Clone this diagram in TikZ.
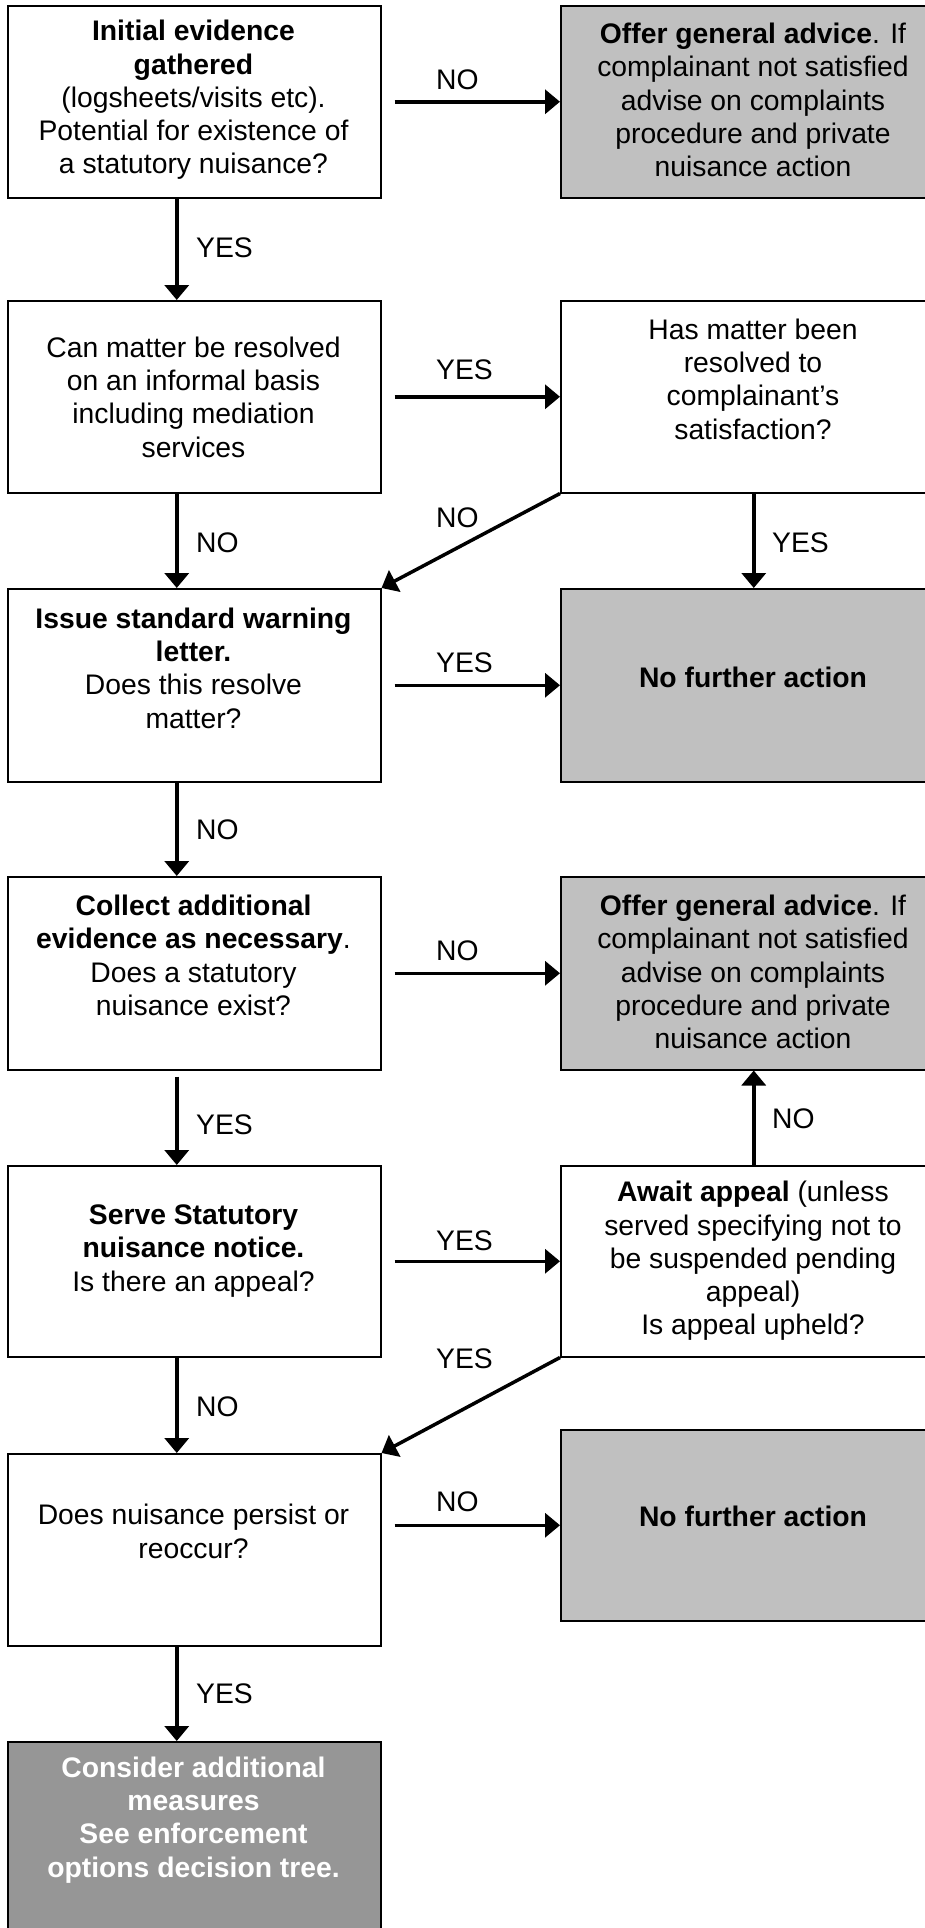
\documentclass[tikz,border=0pt]{standalone}
\usepackage{fontspec}
\setmainfont{Liberation Sans}
\usetikzlibrary{arrows.meta,calc}
\definecolor{lgray}{RGB}{192,192,192}
\definecolor{dgray}{RGB}{150,150,150}
\begin{document}
\begin{tikzpicture}[x=1pt,y=-1pt,
  box/.style={draw=black,line width=1.5pt,inner sep=0pt,anchor=north west,minimum width=373pt},
  rbox/.style={box,minimum width=386pt},
  txt/.style={align=center,inner sep=0pt,font=\fontsize{28.3pt}{33.3pt}\selectfont},
  lab/.style={inner sep=0pt,anchor=west,font=\fontsize{28.3pt}{33.3pt}\selectfont},
  arr/.style={line width=3.5pt,-{Triangle[length=15pt,width=24pt]}}]
\useasboundingbox (0,0) rectangle (925,1928);
\clip (0,0) rectangle (925,1928);
\fill[white] (0,0) rectangle (925,1928);
% boxes
\node[box,minimum height=192pt] (L1) at (7,5) {};
\node[rbox,minimum height=192pt,fill=lgray] (R1) at (560,5) {};
\node[box,minimum height=192pt] (L2) at (7,300) {};
\node[rbox,minimum height=192pt] (R2) at (560,300) {};
\node[box,minimum height=193pt] (L3) at (7,588) {};
\node[rbox,minimum height=193pt,fill=lgray] (R3) at (560,588) {};
\node[box,minimum height=193pt] (L4) at (7,876) {};
\node[rbox,minimum height=193pt,fill=lgray] (R4) at (560,876) {};
\node[box,minimum height=191pt] (L5) at (7,1165) {};
\node[rbox,minimum height=191pt] (R5) at (560,1165) {};
\node[box,minimum height=192pt] (L6) at (7,1453) {};
\node[rbox,minimum height=191pt,fill=lgray] (R6) at (560,1429) {};
\node[box,minimum height=250pt,fill=dgray] (L7) at (7,1741) {};
% texts
\node[txt] (tL1) at (193.5,100) {\textbf{Initial evidence}\\\textbf{gathered}\\(logsheets/visits etc).\\Potential for existence of\\a statutory nuisance?};
\node[txt] (tR1) at (753,100) {\textbf{Offer general advice}. If\\complainant not satisfied\\advise on complaints\\procedure and private\\nuisance action};
\node[txt] (tL2) at (193.5,397) {Can matter be resolved\\on an informal basis\\including mediation\\services};
\node[txt] (tR2) at (753,379) {Has matter been\\resolved to\\complainant’s\\satisfaction?};
\node[txt] (tL3) at (193.5,668) {\textbf{Issue standard warning}\\\textbf{letter.}\\Does this resolve\\matter?};
\node[txt] (tR3) at (753,677) {\textbf{No further action}};
\node[txt] (tL4) at (193.5,955.5) {\textbf{Collect additional}\\\textbf{evidence as necessary}.\\Does a statutory\\nuisance exist?};
\node[txt] (tR4) at (753,972) {\textbf{Offer general advice}. If\\complainant not satisfied\\advise on complaints\\procedure and private\\nuisance action};
\node[txt] (tL5) at (193.5,1251) {\textbf{Serve Statutory}\\\textbf{nuisance notice.}\\Is there an appeal?};
\node[txt] (tR5) at (753,1261) {\textbf{Await appeal} (unless\\served specifying not to\\be suspended pending\\appeal)\\Is appeal upheld?};
\node[txt] (tL6) at (193.5,1531.5) {Does nuisance persist or\\reoccur?};
\node[txt] (tR6) at (753,1516) {\textbf{No further action}};
\node[txt,text=white] (tL7) at (193.5,1820) {\textbf{Consider additional}\\\textbf{measures}\\\textbf{See enforcement}\\\textbf{options decision tree.}};
% connectors
\draw[arr,shorten <=13pt] (L1.east |- R1.west) -- (R1.west);
\draw[arr] ([xshift=-17.5pt]L1.south) -- ([xshift=-17.5pt]L2.north);
\draw[arr,shorten <=13pt] (L2.east |- R2.west) -- (R2.west);
\draw[arr] ([xshift=-17.5pt]L2.south) -- ([xshift=-17.5pt]L3.north);
\draw[arr] (R2.south west) -- (L3.north east);
\draw[arr] (R2.south) -- (R3.north);
\draw[arr,shorten <=13pt] (L3.east |- R3.west) -- (R3.west);
\draw[arr] ([xshift=-17.5pt]L3.south) -- ([xshift=-17.5pt]L4.north);
\draw[arr,shorten <=13pt] (L4.east |- R4.west) -- (R4.west);
\draw[arr,shorten <=6pt] ([xshift=-17.5pt]L4.south) -- ([xshift=-17.5pt]L5.north);
\draw[arr] (R5.north) -- (R4.south);
\draw[arr,shorten <=13pt] (L5.east |- R5.west) -- (R5.west);
\draw[arr] (R5.south west) -- (L6.north east);
\draw[arr] ([xshift=-17.5pt]L5.south) -- ([xshift=-17.5pt]L6.north);
\draw[arr,shorten <=13pt] (L6.east |- R6.west) -- (R6.west);
\draw[arr] ([xshift=-17.5pt]L6.south) -- ([xshift=-17.5pt]L7.north);
% labels
\node[lab] (n1) at (436,80) {NO};
\node[lab] (y1) at (196,248) {YES};
\node[lab] (y2) at (436,370) {YES};
\node[lab] (n2) at (196,543) {NO};
\node[lab] (n3) at (436,518) {NO};
\node[lab] (y3) at (772,543) {YES};
\node[lab] (y4) at (436,663) {YES};
\node[lab] (n4) at (196,830) {NO};
\node[lab] (n5) at (436,951) {NO};
\node[lab] (y5) at (196,1125) {YES};
\node[lab] (n6) at (772,1119) {NO};
\node[lab] (y6) at (436,1241) {YES};
\node[lab] (y7) at (436,1359) {YES};
\node[lab] (n7) at (196,1407) {NO};
\node[lab] (n8) at (436,1502) {NO};
\node[lab] (y8) at (196,1694) {YES};
\end{tikzpicture}
\end{document}
